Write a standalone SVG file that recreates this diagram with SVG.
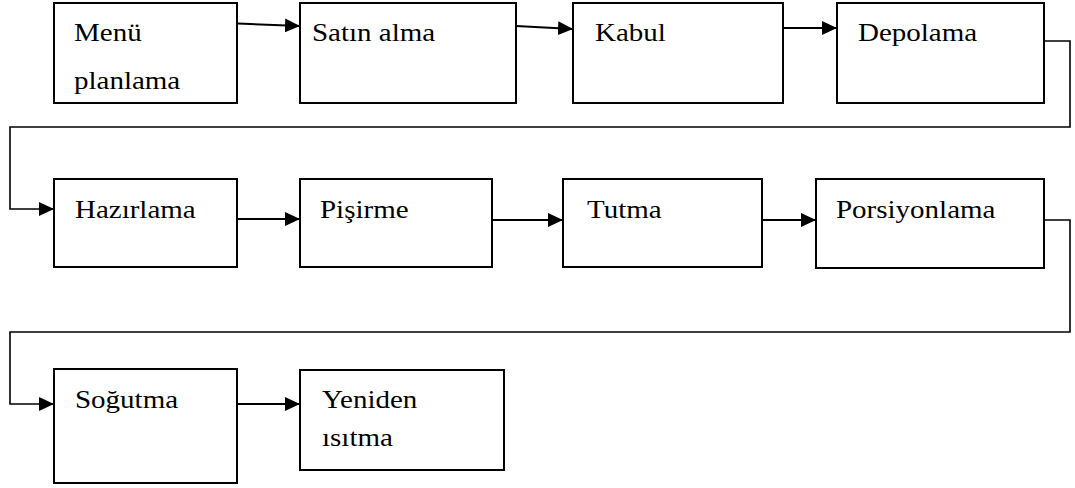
<svg xmlns="http://www.w3.org/2000/svg" width="1075" height="488" viewBox="0 0 1075 488">
<defs>
<style>
.box{fill:#fff;stroke:#000;stroke-width:2}
.t{font-family:'Liberation Serif','Times New Roman',serif;font-size:25px;fill:#000}
.c{fill:none;stroke:#000;stroke-width:2}
.e{fill:none;stroke:#000;stroke-width:1.6}
</style>
<marker id="ah" markerUnits="userSpaceOnUse" markerWidth="16" markerHeight="14" refX="15" refY="7" orient="auto" viewBox="0 0 16 14">
<path d="M0,0 L15,7 L0,14 z" fill="#000"/>
</marker>
</defs>
<rect width="1075" height="488" fill="#fff"/>
<g id="connectors">
<line class="c" x1="238" y1="23.5" x2="300" y2="26" marker-end="url(#ah)"/>
<line class="c" x1="516" y1="26" x2="573" y2="29" marker-end="url(#ah)"/>
<line class="c" x1="783" y1="28" x2="837" y2="28" marker-end="url(#ah)"/>
<polyline class="e" points="1044,41 1070,41 1070,127 10,127 10,209 54,209" marker-end="url(#ah)"/>
<line class="c" x1="238" y1="219" x2="300" y2="219" marker-end="url(#ah)"/>
<line class="c" x1="492" y1="220" x2="563" y2="220" marker-end="url(#ah)"/>
<line class="c" x1="762" y1="220" x2="816" y2="220" marker-end="url(#ah)"/>
<polyline class="e" points="1044,220 1070,220 1070,332 10,332 10,404 54,404" marker-end="url(#ah)"/>
<line class="c" x1="238" y1="404" x2="300" y2="404" marker-end="url(#ah)"/>
</g>
<g id="n1"><rect class="box" x="54" y="3" width="183" height="100"/><text class="t" transform="translate(74,41) scale(1.16,1)">Menü</text><text class="t" transform="translate(74,89) scale(1.16,1)">planlama</text></g>
<g id="n2"><rect class="box" x="300" y="3" width="216" height="100"/><text class="t" transform="translate(312,41) scale(1.16,1)">Satın alma</text></g>
<g id="n3"><rect class="box" x="573" y="3" width="210" height="100"/><text class="t" transform="translate(595,41) scale(1.16,1)">Kabul</text></g>
<g id="n4"><rect class="box" x="837" y="3" width="207" height="100"/><text class="t" transform="translate(858,41) scale(1.16,1)">Depolama</text></g>
<g id="n5"><rect class="box" x="54" y="179" width="183" height="88"/><text class="t" transform="translate(75,218) scale(1.16,1)">Hazırlama</text></g>
<g id="n6"><rect class="box" x="300" y="179" width="192" height="88"/><text class="t" transform="translate(320,218) scale(1.16,1)">Pişirme</text></g>
<g id="n7"><rect class="box" x="563" y="179" width="199" height="88"/><text class="t" transform="translate(587,218) scale(1.16,1)">Tutma</text></g>
<g id="n8"><rect class="box" x="816" y="179" width="228" height="89"/><text class="t" transform="translate(836,218) scale(1.16,1)">Porsiyonlama</text></g>
<g id="n9"><rect class="box" x="54" y="369" width="183" height="114"/><text class="t" transform="translate(75,408) scale(1.16,1)">Soğutma</text></g>
<g id="n10"><rect class="box" x="300" y="370" width="204" height="100"/><text class="t" transform="translate(322,408) scale(1.16,1)">Yeniden</text><text class="t" transform="translate(322,446) scale(1.16,1)">ısıtma</text></g>
</svg>
